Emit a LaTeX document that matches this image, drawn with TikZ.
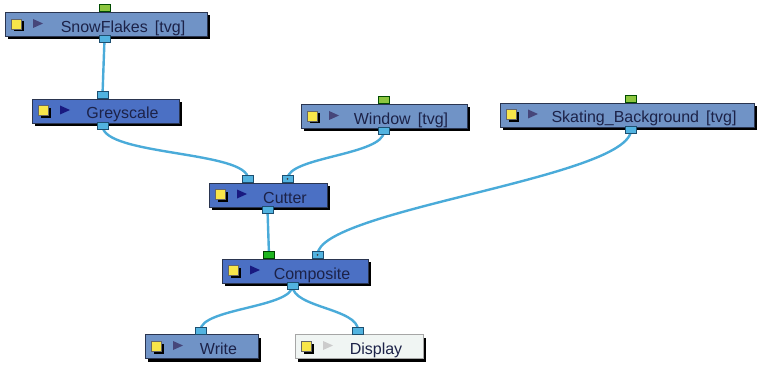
\documentclass[tikz,border=0pt]{standalone}
\usepackage{fontspec}
\setmainfont{Liberation Sans}
\usepackage{xcolor}
\usepackage{tikz}
\usetikzlibrary{positioning,shadows,backgrounds}
\definecolor{elemblue}{HTML}{7093C6}
\definecolor{fxblue}{HTML}{4B70C4}
\definecolor{dispwhite}{HTML}{F0F5F3}
\definecolor{boxline}{HTML}{2A3550}
\definecolor{nodetext}{HTML}{1C2248}
\definecolor{linkblue}{HTML}{4AABD9}
\definecolor{portblue}{HTML}{52B3E0}
\definecolor{portline}{HTML}{1D4F70}
\definecolor{elemgreen}{HTML}{8DC63F}
\definecolor{fxgreen}{HTML}{1FB51F}
\definecolor{iconyellow}{HTML}{F8E64A}
\tikzset{
  basenode/.style={rectangle, draw=boxline, line width=0.8pt, inner sep=0pt,
    minimum height=24pt, text height=16pt, text depth=0pt,
    font=\fontsize{16}{18}\selectfont, text=nodetext,
    drop shadow={shadow xshift=3pt, shadow yshift=-3pt, fill=black, opacity=1},
    path picture={
      \fill[black] ([shift={(8.5,-3)}]path picture bounding box.west) rectangle +(10,10);
      \filldraw[iconyellow, draw=black!60, line width=0.3pt]
        ([shift={(6,-5.5)}]path picture bounding box.west) rectangle +(10,10);
      \fill[tri] ([shift={(28,-5.5)}]path picture bounding box.west)
        -- ([shift={(38,-1)}]path picture bounding box.west)
        -- ([shift={(28,3.5)}]path picture bounding box.west) -- cycle;
    }},
  tri/.style={fill=#1},
  elemnode/.style={basenode, fill=elemblue, tri/.style={fill=black!55!blue!45!gray}},
  fxnode/.style={basenode, fill=fxblue, tri/.style={fill=blue!50!black!80!gray}},
  displaynode/.style={basenode, fill=dispwhite, draw=gray!70, tri/.style={fill=black!20}},
  portin/.style={rectangle, draw=portline, fill=portblue, line width=0.6pt,
    inner sep=0pt, minimum width=11pt, minimum height=7pt},
  portout/.style={portin},
  greenport/.style={portin, fill=elemgreen, draw=green!30!black},
  fxgreenport/.style={portin, fill=fxgreen, draw=green!25!black},
  dotport/.style={portin, path picture={\fill[black!75] (path picture bounding box.center) circle (1pt);}},
  link/.style={draw=linkblue, line width=2.4pt}
}
\newcommand{\nodename}[1]{\hspace*{34pt}#1}
\begin{document}
\begin{tikzpicture}[x=1pt, y=-1pt]
  \useasboundingbox (0,0) rectangle (764,369);

  % nodes
  \node[elemnode, minimum width=202pt] (snow) at (106,24.5) {\nodename{SnowFlakes \,[tvg]}};
  \node[fxnode, minimum width=147pt] (grey) at (105.5,111) {\nodename{Greyscale}};
  \node[elemnode, minimum width=166pt] (win) at (384,116.5) {\nodename{Window \,[tvg]}};
  \node[elemnode, minimum width=254pt] (skate) at (627,115) {\nodename{Skating\_Background \,[tvg]}};
  \node[fxnode, minimum width=118pt] (cut) at (268,195) {\nodename{Cutter}};
  \node[fxnode, minimum width=146pt] (comp) at (295,271) {\nodename{Composite}};
  \node[elemnode, minimum width=113pt] (write) at (201.5,346.5) {\nodename{Write}};
  \node[displaynode, minimum width=128pt] (disp) at (359,346.5) {\nodename{Display}};

  % ports
  \node[greenport, above=0pt of snow.north, xshift=-1.5pt] (snow-in) {};
  \node[portout, below=-1.5pt of snow.south, xshift=-1.5pt] (snow-out) {};
  \node[portin, above=0pt of grey.north, xshift=-3pt] (grey-in) {};
  \node[portout, below=-1.5pt of grey.south, xshift=-3pt] (grey-out) {};
  \node[greenport, above=0pt of win.north] (win-in) {};
  \node[portout, below=-1.5pt of win.south] (win-out) {};
  \node[greenport, above=0pt of skate.north, xshift=4pt] (skate-in) {};
  \node[portout, below=-1.5pt of skate.south, xshift=4pt] (skate-out) {};
  \node[portin, above=0pt of cut.north, xshift=-20pt] (cut-in1) {};
  \node[dotport, above=0pt of cut.north, xshift=19.5pt] (cut-in2) {};
  \node[portout, below=-1.5pt of cut.south, xshift=-0.5pt] (cut-out) {};
  \node[fxgreenport, above=0pt of comp.north, xshift=-26pt] (comp-in1) {};
  \node[dotport, above=0pt of comp.north, xshift=22.5pt] (comp-in2) {};
  \node[portout, below=-1.5pt of comp.south, xshift=-2.5pt] (comp-out) {};
  \node[portin, above=0pt of write.north, xshift=-1pt] (write-in) {};
  \node[portin, above=0pt of disp.north, xshift=-1pt] (disp-in) {};

  % connections
  \begin{scope}[on background layer]
    \draw[link] (snow-out.center) -- (grey-in.center);
    \draw[link] (grey-out.center) .. controls +(0,30) and +(0,-28) .. (cut-in1.center);
    \draw[link] (win-out.center) .. controls +(0,24) and +(0,-22) .. (cut-in2.center);
    \draw[link] (cut-out.center) -- (comp-in1.center);
    \draw[link] (skate-out.center) .. controls +(0,48) and +(0,-45) .. (comp-in2.center);
    \draw[link] (comp-out.center) .. controls +(0,22) and +(0,-22) .. (write-in.center);
    \draw[link] (comp-out.center) .. controls +(0,22) and +(0,-22) .. (disp-in.center);
  \end{scope}
\end{tikzpicture}
\end{document}
